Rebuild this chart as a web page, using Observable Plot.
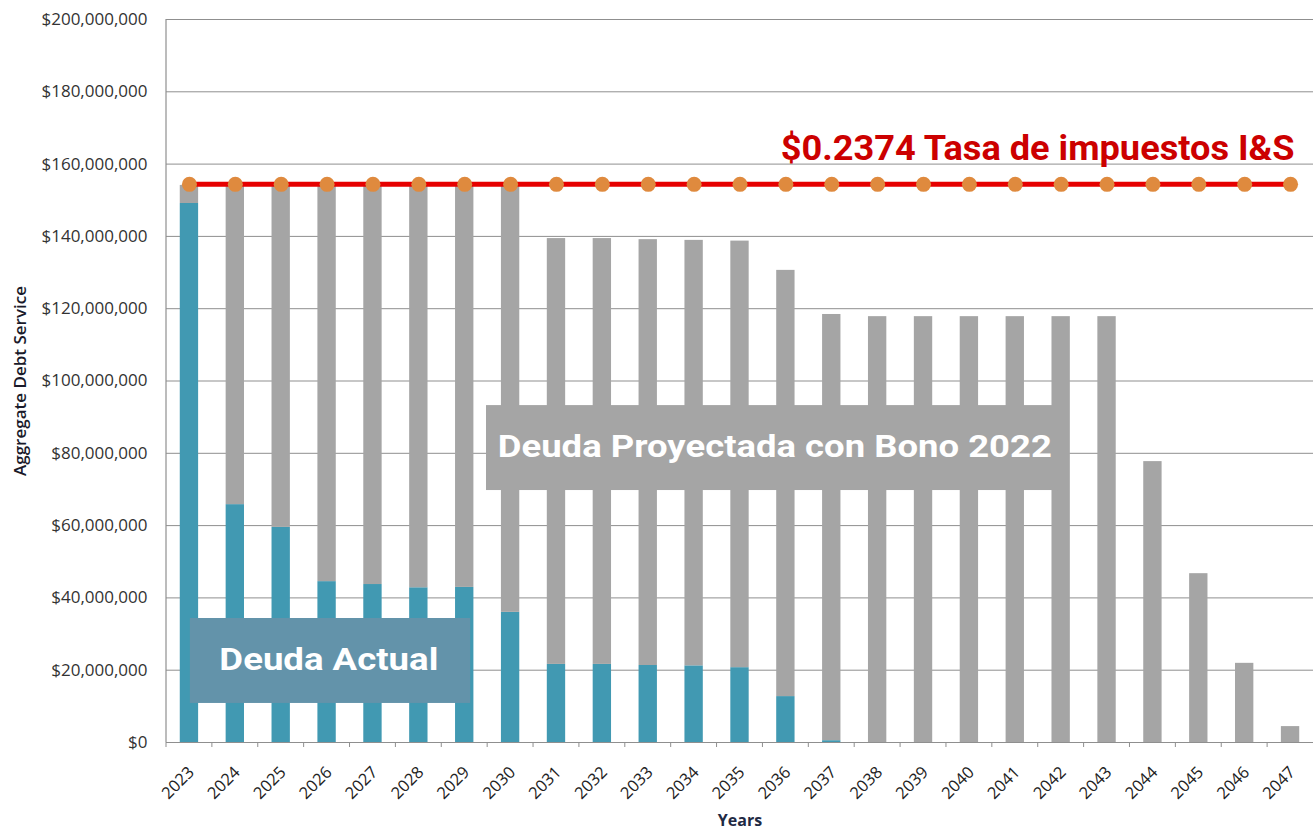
<!DOCTYPE html>
<html><head><meta charset="utf-8">
<script src="https://cdn.jsdelivr.net/npm/d3@7"></script>
<script src="https://cdn.jsdelivr.net/npm/@observablehq/plot@0.6"></script>
<style>html,body{margin:0;padding:0;background:#fff;} svg{display:block;}</style>
</head><body><div id="chart"></div>
<script>
// ---- data (millions of dollars) ----
const years = ["2023","2024","2025","2026","2027","2028","2029","2030","2031","2032","2033","2034","2035","2036","2037","2038","2039","2040","2041","2042","2043","2044","2045","2046","2047"];
const seriesNames = ["Deuda Actual", "Deuda Proyectada con Bono 2022"];
const existingDebt = [149.1, 65.8, 59.5, 44.5, 43.7, 42.8, 42.9, 36.0, 21.6, 21.6, 21.3, 21.2, 20.7, 12.7, 0.5, 0, 0, 0, 0, 0, 0, 0, 0, 0, 0];
const projectedDebt = [5.0, 88.3, 94.6, 109.6, 110.4, 111.3, 111.2, 118.1, 117.8, 117.8, 117.8, 117.7, 118.0, 117.9, 117.9, 117.8, 117.8, 117.8, 117.8, 117.8, 117.8, 77.7, 46.7, 21.9, 4.4];
const taxRateCapacity = [154.4, 154.4, 154.4, 154.4, 154.4, 154.4, 154.4, 154.4, 154.4, 154.4, 154.4, 154.4, 154.4, 154.4, 154.4, 154.4, 154.4, 154.4, 154.4, 154.4, 154.4, 154.4, 154.4, 154.4, 154.4];
const yTickValues = [0, 20, 40, 60, 80, 100, 120, 140, 160, 180, 200];
const titleText = "$0.2374 Tasa de impuestos I&S";
const yLabel = "Aggregate Debt Service";
const xLabel = "Years";

// ---- styles ----
const seriesColors = ["#4199b2", "#a5a5a5"];
const M = 1e6;

// ---- tables built from the arrays ----
const rows = [];
years.forEach((yr, i) => {
  rows.push({year: yr, series: seriesNames[0], value: existingDebt[i] * M});
  rows.push({year: yr, series: seriesNames[1], value: projectedDebt[i] * M});
});
const rateRows = years.map((yr, i) => ({year: yr, value: taxRateCapacity[i] * M}));
const yTicks = yTickValues.map(v => v * M);

// ---- annotation layout (year anchors + band-step offsets, values in millions) ----
const boxes = [
  {label: seriesNames[1], from: "2030", fromOff: -0.525, to: "2042", toOff: -0.06, top: 93.2, bottom: 69.7,
   textAt: "2036", textOff: -0.23, baseline: 78.9, textWidth: 554, fontSize: 31, fill: "#a5a5a5"},
  {label: seriesNames[0], from: "2023", fromOff: 0.02, to: "2029", toOff: 0.13, top: 34.3, bottom: 10.8,
   textAt: "2026", textOff: 0.05, baseline: 19.9, textWidth: 219, fontSize: 32, fill: "#6393aa"}
];

function decorations(index, scales, values, dimensions) {
  const x = scales.x, y = scales.y;
  const bw = typeof x.bandwidth === "function" ? x.bandwidth() : x.bandwidth;
  const step = typeof x.step === "function" ? x.step() : bw / 0.4;
  const cx = (yr, f = 0) => x(yr) + bw / 2 + f * step;
  const g = d3.create("svg:g");
  const left = dimensions.marginLeft;
  g.append("line").attr("x1", left).attr("x2", left).attr("y1", y(200 * M)).attr("y2", y(0))
    .attr("stroke", "#8f8f8f").attr("stroke-width", 1.2);
  for (const yr of years) {
    const bx = cx(yr, -0.5);
    g.append("line").attr("x1", bx).attr("x2", bx).attr("y1", y(0)).attr("y2", y(0) + 5)
      .attr("stroke", "#8f8f8f");
  }
  for (const b of boxes) {
    const x1 = cx(b.from, b.fromOff), x2 = cx(b.to, b.toOff);
    g.append("rect").attr("x", x1).attr("y", y(b.top * M)).attr("width", x2 - x1)
      .attr("height", y(b.bottom * M) - y(b.top * M)).attr("fill", b.fill);
    g.append("text").attr("x", cx(b.textAt, b.textOff)).attr("y", y(b.baseline * M))
      .attr("text-anchor", "middle").attr("fill", "#fff")
      .attr("font-family", "Roboto, 'Noto Sans', sans-serif").attr("font-weight", 700)
      .attr("font-size", b.fontSize).attr("textLength", b.textWidth).attr("lengthAdjust", "spacingAndGlyphs")
      .text(b.label);
  }
  g.append("text").attr("x", cx("2047", 0.1)).attr("y", y(161 * M))
    .attr("text-anchor", "end").attr("fill", "#cc0000")
    .attr("font-family", "Roboto, 'Noto Sans', sans-serif").attr("font-weight", 700)
    .attr("font-size", 35).attr("textLength", 514).attr("lengthAdjust", "spacingAndGlyphs")
    .text(titleText);
  return g.node();
}

const chart = Plot.plot({
  width: 1313,
  height: 831,
  marginLeft: 166,
  marginRight: 0,
  marginTop: 19,
  marginBottom: 89,
  style: {fontFamily: "'Open Sans', 'Liberation Sans', Arial, sans-serif", background: "#fff", overflow: "visible"},
  x: {domain: years, paddingInner: 0.6, paddingOuter: 0.3, round: false, label: null},
  y: {domain: [0, 200 * M], label: null},
  color: {domain: seriesNames, range: seriesColors},
  marks: [
    Plot.ruleY(yTicks, {stroke: "#8f8f8f", strokeWidth: 1}),
    Plot.barY(rows, {x: "year", y: "value", fill: "series"}),
    Plot.lineY(rateRows, {x: "year", y: "value", stroke: "#e60000", strokeWidth: 5}),
    Plot.dot(rateRows, {x: "year", y: "value", r: 7.5, fill: "#df8a3e", stroke: "none"}),
    Plot.axisY({ticks: yTicks, tickFormat: d => "$" + d3.format(",")(d), tickSize: 0, tickPadding: 19,
      fontSize: 17, fill: "#333", label: null}),
    Plot.axisX({tickRotate: -45, tickSize: 0, tickPadding: 27, dx: 2, fontSize: 16.5, fill: "#222", label: null}),
    decorations,
    Plot.text([yLabel], {frameAnchor: "left", textAnchor: "middle", rotate: -90, dx: -146, fontSize: 17, fontWeight: 600, fill: "#1a1a2a"}),
    Plot.text([xLabel], {frameAnchor: "bottom", textAnchor: "middle", dy: 83, fontSize: 16, fontWeight: 700, fill: "#1f2a44"})
  ]
});
document.getElementById("chart").appendChild(chart);
</script>
</body></html>
